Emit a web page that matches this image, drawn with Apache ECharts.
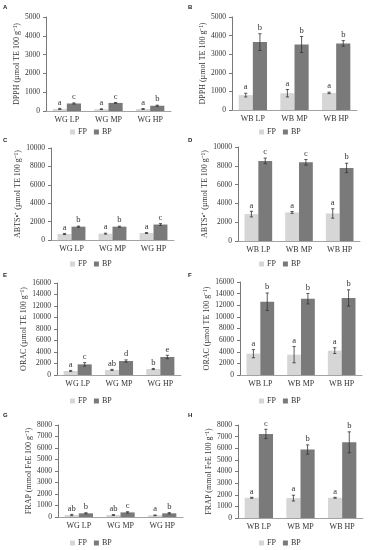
<!DOCTYPE html>
<html>
<head>
<meta charset="utf-8">
<script src="https://cdn.jsdelivr.net/npm/echarts@6/dist/echarts.min.js"></script>
<style>
html,body{margin:0;padding:0;background:#fff;}
#c{width:371px;height:550px;}
</style>
</head>
<body>
<div id="c"></div>
<script>
// ---------- data ----------
const catsWG = ['WG LP', 'WG MP', 'WG HP'];
const catsWB = ['WB LP', 'WB MP', 'WB HP'];
const seriesNames = ['FP', 'BP'];

// DPPH (µmol TE 100 g-1)
const dpphWG_FP = [110, 95, 105];   const dpphWG_FPerr = [30, 20, 25];   const dpphWG_FPlet = ['a', 'a', 'a'];
const dpphWG_BP = [400, 430, 280];  const dpphWG_BPerr = [30, 25, 30];   const dpphWG_BPlet = ['c', 'c', 'b'];
const dpphWB_FP = [800, 900, 920];  const dpphWB_FPerr = [100, 200, 40]; const dpphWB_FPlet = ['a', 'a', 'a'];
const dpphWB_BP = [3650, 3520, 3580]; const dpphWB_BPerr = [450, 430, 150]; const dpphWB_BPlet = ['b', 'b', 'b'];

// ABTS (µmol TE 100 g-1)
const abtsWG_FP = [650, 690, 760];   const abtsWG_FPerr = [60, 50, 50];   const abtsWG_FPlet = ['a', 'a', 'a'];
const abtsWG_BP = [1450, 1450, 1680]; const abtsWG_BPerr = [60, 50, 100]; const abtsWG_BPlet = ['b', 'b', 'c'];
const abtsWB_FP = [2860, 3040, 2930]; const abtsWB_FPerr = [300, 100, 500]; const abtsWB_FPlet = ['a', 'a', 'a'];
const abtsWB_BP = [8520, 8370, 7770]; const abtsWB_BPerr = [300, 300, 500]; const abtsWB_BPlet = ['c', 'c', 'b'];

// ORAC (µmol TE 100 g-1)
const oracWG_FP = [700, 880, 1040];   const oracWG_FPerr = [100, 100, 100]; const oracWG_FPlet = ['a', 'ab', 'b'];
const oracWG_BP = [1850, 2430, 3130]; const oracWG_BPerr = [300, 200, 300]; const oracWG_BPlet = ['c', 'd', 'e'];
const oracWB_FP = [3670, 3500, 4190]; const oracWB_FPerr = [700, 1400, 500]; const oracWB_FPlet = ['a', 'a', 'a'];
const oracWB_BP = [12610, 13130, 13250]; const oracWB_BPerr = [1500, 900, 1400]; const oracWB_BPlet = ['b', 'b', 'b'];

// FRAP (mmol FeE 100 g-1)
const frapWG_FP = [170, 170, 145];   const frapWG_FPerr = [60, 40, 30];   const frapWG_FPlet = ['ab', 'ab', 'a'];
const frapWG_BP = [320, 400, 320];   const frapWG_BPerr = [50, 60, 60];   const frapWG_BPlet = ['b', 'c', 'b'];
const frapWB_FP = [1740, 1710, 1740]; const frapWB_FPerr = [40, 250, 40]; const frapWB_FPlet = ['a', 'a', 'a'];
const frapWB_BP = [7230, 5890, 6510]; const frapWB_BPerr = [400, 400, 900]; const frapWB_BPlet = ['c', 'b', 'b'];

// axis ticks
const ticksDPPH = {max: 5000, interval: 1000};
const ticksABTS = {max: 10000, interval: 2000};
const ticksORAC = {max: 16000, interval: 2000};
const ticksFRAP = {max: 8000, interval: 1000};

const titleDPPH = 'DPPH (µmol TE 100 g⁻¹)';
const titleABTS = 'ABTS•⁺ (µmol TE 100 g⁻¹)';
const titleORAC = 'ORAC (µmol TE 100 g⁻¹)';
const titleFRAP = 'FRAP (mmol FeE 100 g⁻¹)';

// ---------- layout / styling ----------
const FONT = 'Liberation Serif';
const COL_FP = '#d6d6d6';
const COL_BP = '#7a7a7a';
const TXT = '#333';
const CAT_GAP = 0.32;

const panels = [
  {tag:'A', cats:catsWG, fp:dpphWG_FP, fpE:dpphWG_FPerr, fpL:dpphWG_FPlet, bp:dpphWG_BP, bpE:dpphWG_BPerr, bpL:dpphWG_BPlet, t:ticksDPPH, title:titleDPPH,
   grid:{left:46, top:17, width:125, height:94}, legendTop:128, legendLeft:70, tagPos:[3,4], nameGap:20},
  {tag:'B', cats:catsWB, fp:dpphWB_FP, fpE:dpphWB_FPerr, fpL:dpphWB_FPlet, bp:dpphWB_BP, bpE:dpphWB_BPerr, bpL:dpphWB_BPlet, t:ticksDPPH, title:titleDPPH,
   grid:{left:232, top:17, width:125, height:93}, legendTop:128, legendLeft:259, tagPos:[188,4], nameGap:20},
  {tag:'C', cats:catsWG, fp:abtsWG_FP, fpE:abtsWG_FPerr, fpL:abtsWG_FPlet, bp:abtsWG_BP, bpE:abtsWG_BPerr, bpL:abtsWG_BPlet, t:ticksABTS, title:titleABTS,
   grid:{left:51, top:148, width:123, height:92}, legendTop:260, legendLeft:70, tagPos:[3,137], nameGap:24},
  {tag:'D', cats:catsWB, fp:abtsWB_FP, fpE:abtsWB_FPerr, fpL:abtsWB_FPlet, bp:abtsWB_BP, bpE:abtsWB_BPerr, bpL:abtsWB_BPlet, t:ticksABTS, title:titleABTS,
   grid:{left:238, top:147, width:122, height:94}, legendTop:260, legendLeft:259, tagPos:[188,137], nameGap:24},
  {tag:'E', cats:catsWG, fp:oracWG_FP, fpE:oracWG_FPerr, fpL:oracWG_FPlet, bp:oracWG_BP, bpE:oracWG_BPerr, bpL:oracWG_BPlet, t:ticksORAC, title:titleORAC,
   grid:{left:57, top:283, width:124, height:92}, legendTop:397, legendLeft:70, tagPos:[3,272], nameGap:24},
  {tag:'F', cats:catsWB, fp:oracWB_FP, fpE:oracWB_FPerr, fpL:oracWB_FPlet, bp:oracWB_BP, bpE:oracWB_BPerr, bpL:oracWB_BPlet, t:ticksORAC, title:titleORAC,
   grid:{left:240, top:282, width:122, height:93}, legendTop:397, legendLeft:259, tagPos:[188,272], nameGap:24},
  {tag:'G', cats:catsWG, fp:frapWG_FP, fpE:frapWG_FPerr, fpL:frapWG_FPlet, bp:frapWG_BP, bpE:frapWG_BPerr, bpL:frapWG_BPlet, t:ticksFRAP, title:titleFRAP,
   grid:{left:58, top:425, width:125, height:92}, legendTop:539, legendLeft:70, tagPos:[3,412], nameGap:20},
  {tag:'H', cats:catsWB, fp:frapWB_FP, fpE:frapWB_FPerr, fpL:frapWB_FPlet, bp:frapWB_BP, bpE:frapWB_BPerr, bpL:frapWB_BPlet, t:ticksFRAP, title:titleFRAP,
   grid:{left:238, top:425, width:125, height:93}, legendTop:539, legendLeft:259, tagPos:[188,412], nameGap:20}
];

function makeErrRender(side, letters) {
  return function (params, api) {
    const cat = api.value(0), mean = api.value(1), err = api.value(2);
    const band = api.size([1, 0])[0];
    const barW = band * (1 - CAT_GAP) / 2;
    const cx = api.coord([cat, 0])[0] + (side === 0 ? -barW / 2 : barW / 2);
    const yTop = api.coord([cat, mean + err])[1];
    const yBot = api.coord([cat, Math.max(mean - err, 0)])[1];
    const cap = 1.6;
    const ls = {stroke: '#333', lineWidth: 0.8};
    return {
      type: 'group',
      children: [
        {type: 'line', shape: {x1: cx, y1: yTop, x2: cx, y2: yBot}, style: ls},
        {type: 'line', shape: {x1: cx - cap, y1: yTop, x2: cx + cap, y2: yTop}, style: ls},
        {type: 'line', shape: {x1: cx - cap, y1: yBot, x2: cx + cap, y2: yBot}, style: ls},
        {type: 'text', style: {text: letters[params.dataIndex], x: cx, y: yTop - 1.5, align: 'center', verticalAlign: 'bottom',
          font: '8.5px "' + FONT + '"', fill: TXT}}
      ]
    };
  };
}

const option = {
  animation: false,
  backgroundColor: '#fff',
  grid: [], xAxis: [], yAxis: [], series: [], legend: [], graphic: []
};

panels.forEach((p, i) => {
  option.grid.push(Object.assign({containLabel: false}, p.grid));
  option.xAxis.push({
    type: 'category', gridIndex: i, data: p.cats,
    axisLine: {lineStyle: {color: '#8c8c8c', width: 0.8}},
    axisTick: {show: false},
    axisLabel: {fontFamily: FONT, fontSize: 8, color: TXT, margin: 5}
  });
  option.yAxis.push({
    type: 'value', gridIndex: i, min: 0, max: p.t.max, interval: p.t.interval,
    name: p.title, nameLocation: 'middle', nameRotate: 90, nameGap: p.nameGap,
    nameTextStyle: {fontFamily: FONT, fontSize: 8, color: TXT},
    axisLine: {show: true, lineStyle: {color: '#555', width: 0.8}},
    axisTick: {show: true, length: 3, lineStyle: {color: '#555', width: 0.8}},
    axisLabel: {fontFamily: FONT, fontSize: 7.5, color: TXT, margin: 6, formatter: v => String(v)},
    splitLine: {show: false}
  });
  option.series.push({
    name: 'FP', type: 'bar', xAxisIndex: i, yAxisIndex: i, data: p.fp,
    barGap: '0%', barCategoryGap: (CAT_GAP * 100) + '%',
    itemStyle: {color: COL_FP}
  });
  option.series.push({
    name: 'BP', type: 'bar', xAxisIndex: i, yAxisIndex: i, data: p.bp,
    barGap: '0%', barCategoryGap: (CAT_GAP * 100) + '%',
    itemStyle: {color: COL_BP}
  });
  option.series.push({
    type: 'custom', xAxisIndex: i, yAxisIndex: i, z: 5,
    renderItem: makeErrRender(0, p.fpL),
    data: p.fp.map((v, k) => [k, v, p.fpE[k]])
  });
  option.series.push({
    type: 'custom', xAxisIndex: i, yAxisIndex: i, z: 5,
    renderItem: makeErrRender(1, p.bpL),
    data: p.bp.map((v, k) => [k, v, p.bpE[k]])
  });
  option.legend.push({
    data: seriesNames, left: p.legendLeft, top: p.legendTop,
    itemWidth: 5, itemHeight: 5, itemGap: 7, icon: 'rect',
    textStyle: {fontFamily: FONT, fontSize: 8, color: TXT, padding: [0, 0, 0, -2]},
    padding: 0, selectedMode: false
  });
  option.graphic.push({
    type: 'text', left: p.tagPos[0], top: p.tagPos[1],
    style: {text: p.tag, font: 'bold 6px "Liberation Sans"', fill: '#222'}
  });
});

const chart = echarts.init(document.getElementById('c'), null, {renderer: 'canvas'});
chart.setOption(option);
</script>
</body>
</html>
